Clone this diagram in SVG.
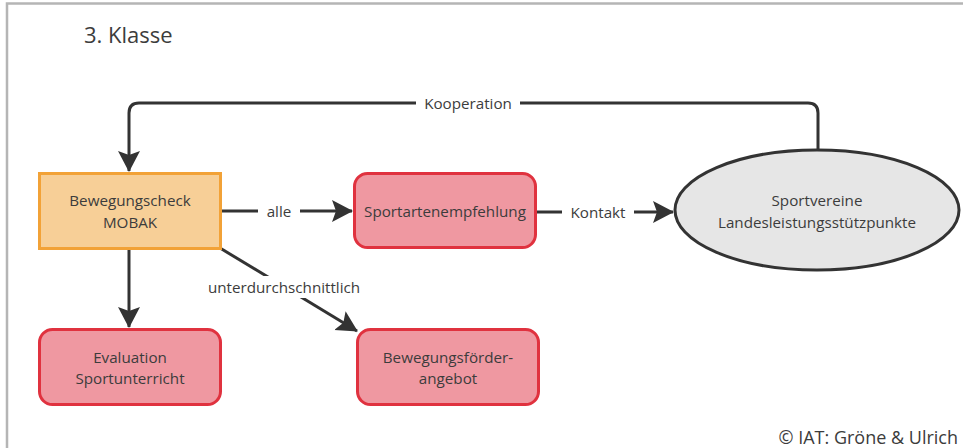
<svg xmlns="http://www.w3.org/2000/svg" width="963" height="448" viewBox="0 0 963 448">
<style>
text{font-family:"Open Sans","Noto Sans","Liberation Sans",sans-serif;fill:#3c3c3c}
.n{font-size:15.2px;text-anchor:middle;dominant-baseline:central}
.l{font-size:15.2px;text-anchor:middle;dominant-baseline:central}
.e{stroke:#333;stroke-width:3;fill:none}
.red{fill:#ef98a1;stroke:#e0323f;stroke-width:3}
.bg{fill:#fff}
</style>
<defs>
<marker id="ah" markerUnits="userSpaceOnUse" markerWidth="24" markerHeight="24" refX="20" refY="11" orient="auto">
<path d="M0,0 L21,11 L0,22 L4,11 z" fill="#333"/>
</marker>
</defs>
<rect x="0" y="0" width="963" height="448" fill="#fff"/>
<path d="M7,448 V3.5 H963" fill="none" stroke="#b5b5b5" stroke-width="2.5"/>
<text x="84" y="34" style="font-size:22px;dominant-baseline:central">3. Klasse</text>
<g id="connectors">
<path class="e" d="M220,211 H352" marker-end="url(#ah)"/>
<path class="e" d="M535,212 H673" marker-end="url(#ah)"/>
<path class="e" d="M129,248 V327" marker-end="url(#ah)"/>
<path class="e" d="M220,248 L357,331" marker-end="url(#ah)"/>
<path class="e" d="M818,151 V113 Q818,103 808,103 H139 Q129,103 129,113 V171" marker-end="url(#ah)"/>
<rect class="bg" x="258" y="200" width="42" height="22"/>
<text class="l" x="279" y="211">alle</text>
<rect class="bg" x="562" y="201" width="72" height="22"/>
<text class="l" x="598" y="212">Kontakt</text>
<rect class="bg" x="203" y="276" width="162" height="22"/>
<text class="l" x="284" y="287">unterdurchschnittlich</text>
<rect class="bg" x="416" y="92" width="104" height="22"/>
<text class="l" x="468" y="103">Kooperation</text>
</g>
<g id="mobak">
<rect x="39.5" y="173.5" width="181" height="75" fill="#f7cf97" stroke="#f2a237" stroke-width="3"/>
<text class="n" x="130" y="200">Bewegungscheck</text>
<text class="n" x="130" y="222">MOBAK</text>
</g>
<g id="sportarten">
<rect class="red" x="354.5" y="173.5" width="181" height="74" rx="13"/>
<text class="n" x="445" y="211">Sportartenempfehlung</text>
</g>
<g id="vereine">
<ellipse cx="817" cy="210" rx="142" ry="60" fill="#e6e6e6" stroke="#333" stroke-width="3"/>
<text class="n" x="817" y="200">Sportvereine</text>
<text class="n" x="817" y="222">Landesleistungsstützpunkte</text>
</g>
<g id="evaluation">
<rect class="red" x="39.5" y="329.5" width="181" height="75" rx="13"/>
<text class="n" x="130" y="357">Evaluation</text>
<text class="n" x="130" y="378">Sportunterricht</text>
</g>
<g id="foerder">
<rect class="red" x="357.5" y="329.5" width="181" height="75" rx="13"/>
<text class="n" x="448" y="357">Bewegungsförder-</text>
<text class="n" x="448" y="378">angebot</text>
</g>
<text x="958" y="437" style="font-size:18px;text-anchor:end;dominant-baseline:central">© IAT: Gröne &amp; Ulrich</text>
</svg>
